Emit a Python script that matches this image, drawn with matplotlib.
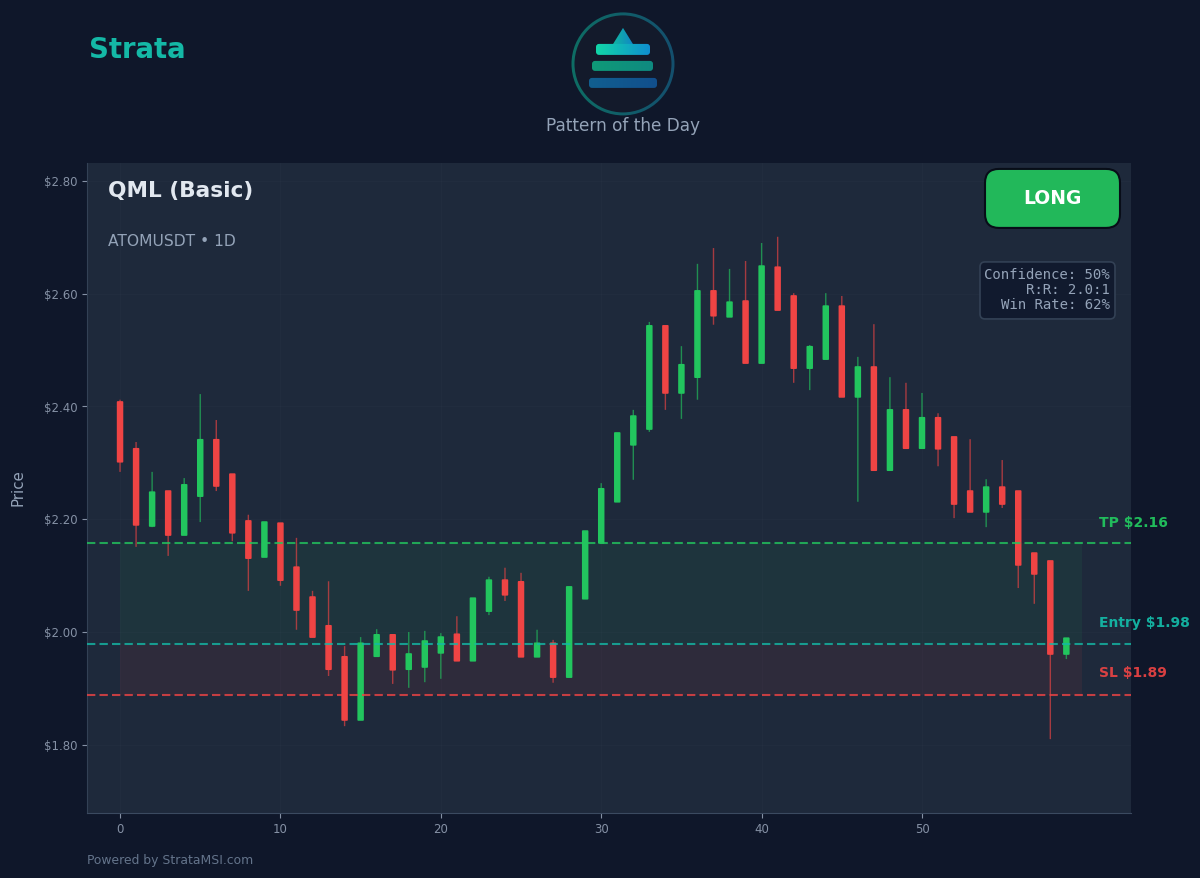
import matplotlib
matplotlib.use('Agg')
import matplotlib.pyplot as plt
import numpy as np
from matplotlib.colors import LinearSegmentedColormap
from matplotlib.patches import Circle, FancyBboxPatch, Polygon, Wedge

# candle data
opens = [2.408, 2.325, 2.188, 2.250, 2.172, 2.241, 2.341, 2.280, 2.197, 2.133,
         2.193, 2.115, 2.062, 2.011, 1.956, 1.844, 1.957, 1.995, 1.934, 1.938,
         1.963, 1.996, 1.949, 2.037, 2.092, 2.089, 1.956, 1.980, 1.920, 2.059,
         2.158, 2.231, 2.332, 2.360, 2.543, 2.424, 2.452, 2.605, 2.559, 2.587,
         2.477, 2.647, 2.596, 2.468, 2.484, 2.578, 2.417, 2.470, 2.287, 2.394,
         2.326, 2.380, 2.346, 2.250, 2.213, 2.257, 2.250, 2.140, 2.126, 1.961]
closes = [2.302, 2.190, 2.248, 2.172, 2.261, 2.341, 2.259, 2.176, 2.131, 2.195,
          2.092, 2.039, 1.991, 1.934, 1.844, 1.980, 1.995, 1.933, 1.961, 1.984,
          1.991, 1.949, 2.060, 2.092, 2.066, 1.956, 1.980, 1.920, 2.080, 2.179,
          2.254, 2.353, 2.383, 2.543, 2.424, 2.474, 2.605, 2.561, 2.585, 2.477,
          2.649, 2.571, 2.468, 2.506, 2.578, 2.417, 2.470, 2.287, 2.394, 2.326,
          2.380, 2.325, 2.227, 2.213, 2.257, 2.227, 2.119, 2.103, 1.961, 1.989]
highs = [2.412, 2.337, 2.284, 2.250, 2.273, 2.422, 2.376, 2.280, 2.208, 2.195,
         2.193, 2.167, 2.073, 2.090, 1.975, 1.991, 2.005, 1.995, 2.000, 2.002,
         1.998, 2.028, 2.060, 2.098, 2.114, 2.105, 2.004, 1.986, 2.080, 2.179,
         2.264, 2.353, 2.394, 2.550, 2.543, 2.507, 2.653, 2.681, 2.644, 2.658,
         2.690, 2.701, 2.601, 2.509, 2.601, 2.596, 2.488, 2.546, 2.452, 2.442,
         2.424, 2.388, 2.346, 2.342, 2.271, 2.305, 2.250, 2.140, 2.126, 1.989]
lows = [2.284, 2.151, 2.186, 2.135, 2.172, 2.195, 2.250, 2.161, 2.073, 2.133,
        2.082, 2.004, 1.991, 1.922, 1.833, 1.844, 1.957, 1.908, 1.901, 1.911,
        1.917, 1.949, 1.949, 2.030, 2.055, 1.956, 1.956, 1.910, 1.920, 2.059,
        2.158, 2.231, 2.270, 2.355, 2.394, 2.378, 2.412, 2.545, 2.559, 2.477,
        2.477, 2.571, 2.442, 2.429, 2.484, 2.417, 2.231, 2.287, 2.287, 2.326,
        2.326, 2.294, 2.202, 2.213, 2.186, 2.220, 2.078, 2.050, 1.810, 1.952]

tp = 2.157
entry = 1.978
sl = 1.889
y_ticks = [1.8, 2.0, 2.2, 2.4, 2.6, 2.8]
x_ticks = [0, 10, 20, 30, 40, 50]

BG = '#0f172a'
PANEL = '#1e293b'
GREEN = '#22c55e'
RED = '#ef4444'
TEAL = '#14b8a6'
GREY = '#94a3b8'
TICK = '#8591a5'

fig = plt.figure(figsize=(12, 8.781), dpi=100, facecolor=BG)
ax = fig.add_axes([87/1200, 1-813/878, (1131-87)/1200, (813-163)/878], facecolor=PANEL)

x = np.arange(len(opens))
opens = np.array(opens)
closes = np.array(closes)
colors = [GREEN if c >= o else RED for o, c in zip(opens, closes)]

# zones
ax.fill_between([0, 60], entry, tp, color=GREEN, alpha=0.07, lw=0, zorder=1)
ax.fill_between([0, 60], sl, entry, color=RED, alpha=0.08, lw=0, zorder=1)

# candles
wicks = ax.vlines(x, lows, highs, colors=colors, linewidth=1, alpha=0.65, zorder=2)
wicks.set_snap(False)
bodies = ax.bar(x, np.abs(closes-opens), bottom=np.minimum(opens, closes), width=0.3,
                color=colors, edgecolor=colors, linewidth=1.2, joinstyle='round', zorder=3)
for b in bodies:
    b.set_snap(False)

# levels
ax.axhline(tp, color=GREEN, ls=(0, (4, 2)), lw=1.5, alpha=0.8, zorder=4)
ax.axhline(entry, color=TEAL, ls=(0, (4, 2)), lw=1.5, alpha=0.8, zorder=4)
ax.axhline(sl, color=RED, ls=(0, (4, 2)), lw=1.5, alpha=0.8, zorder=4)

ax.set_xlim(-2.06, 63.03)
ax.set_ylim(1.679, 2.832)
ax.set_xticks(x_ticks)
ax.set_yticks(y_ticks)
ax.set_yticklabels(['$%.2f' % v for v in y_ticks])
ax.tick_params(colors=TICK, labelsize=8.5, length=3.5, width=0.8, pad=3.5)
ax.grid(True, color='white', alpha=0.015, lw=1)
ax.set_axisbelow(True)
ax.spines['top'].set_visible(False)
ax.spines['right'].set_visible(False)
ax.spines['left'].set_color('#334155')
ax.spines['bottom'].set_color('#3b4a60')
ax.set_ylabel('Price', color=GREY, fontsize=10.8, labelpad=13)

# level labels
ax.text(61.05, tp+0.037, 'TP $%.2f' % tp, color=GREEN, fontsize=10, fontweight='bold',
        va='center', clip_on=False, alpha=0.95)
ax.text(61.05, 2.016, 'Entry $%.2f' % entry, color=TEAL, fontsize=10, fontweight='bold',
        va='center', clip_on=False, alpha=0.95)
ax.text(61.05, 1.927, 'SL $%.2f' % sl, color=RED, fontsize=10, fontweight='bold',
        va='center', clip_on=False, alpha=0.9)

# everything else placed in pixels
ov = fig.add_axes([0, 0, 1, 1], facecolor='none', zorder=5)
ov.set_axis_off()


def grad(x0, x1, y0, y1, c0, c1, clip):
    cmap = LinearSegmentedColormap.from_list('g', [c0, c1])
    im = ov.imshow(np.linspace(0, 1, 64).reshape(1, -1), extent=(x0, x1, y1, y0),
                   cmap=cmap, aspect='auto', zorder=7)
    ov.add_patch(clip)
    clip.set_visible(False)
    im.set_clip_path(clip)


def rbar(x0, x1, y0, y1, c0, c1):
    p = FancyBboxPatch((x0+2, y0+2), x1-x0-4, y1-y0-4, boxstyle='round,pad=2,rounding_size=3')
    grad(x0, x1, y0, y1, c0, c1, p)


ov.add_patch(Circle((623, 64), 50, fc='#131a2b', ec='none', zorder=6))
grad(570, 676, 11, 117, '#0e6e64', '#144f6e', Wedge((623, 64), 51.5, 0, 360, width=3))
grad(612, 634, 28, 45, '#10b8a0', '#1185c8', Polygon([(623, 28), (612.5, 45), (633.5, 45)]))
rbar(596, 650, 44, 55, '#12d6a8', '#0f8fd0')
rbar(592, 653, 61, 71, '#0f9a78', '#0f8a80')
rbar(589, 657, 78, 88, '#115f90', '#114f8c')

ov.add_patch(FancyBboxPatch((993, 177), 119, 43, boxstyle='round,pad=8,rounding_size=14',
                            fc='#22b85a', ec='#080d18', lw=1.5, zorder=6))
ov.add_patch(FancyBboxPatch((984, 266), 127, 49, boxstyle='round,pad=4,rounding_size=5',
                            fc='#111a2e', ec='#334155', lw=1.2, zorder=6))
ov.set_xlim(0, 1200)
ov.set_ylim(878, 0)

ov.text(89, 50, 'Strata', color=TEAL, fontsize=19.8, fontweight='bold', va='center', zorder=8)
ov.text(623, 126, 'Pattern of the Day', color=GREY, fontsize=12.2, ha='center', va='center', zorder=8)
ov.text(108, 191, 'QML (Basic)', color='#e2e8f0', fontsize=15.6, fontweight='bold', va='center', zorder=8)
ov.text(108, 241, 'ATOMUSDT • 1D', color=GREY, fontsize=11.2, va='center', zorder=8)
ov.text(1052, 198, 'LONG', color='white', fontsize=13.5, fontweight='bold', ha='center', va='center', zorder=8)
ov.text(1110, 290, 'Confidence: 50%\nR:R: 2.0:1\nWin Rate: 62%', color=GREY, fontsize=10.1,
        family='DejaVu Sans Mono', ha='right', va='center', linespacing=1.1, multialignment='right', zorder=8)
ov.text(87, 860, 'Powered by StrataMSI.com', color='#64748b', fontsize=8.9, va='center', zorder=8)

fig.savefig('out.png', dpi=100, facecolor=BG)
